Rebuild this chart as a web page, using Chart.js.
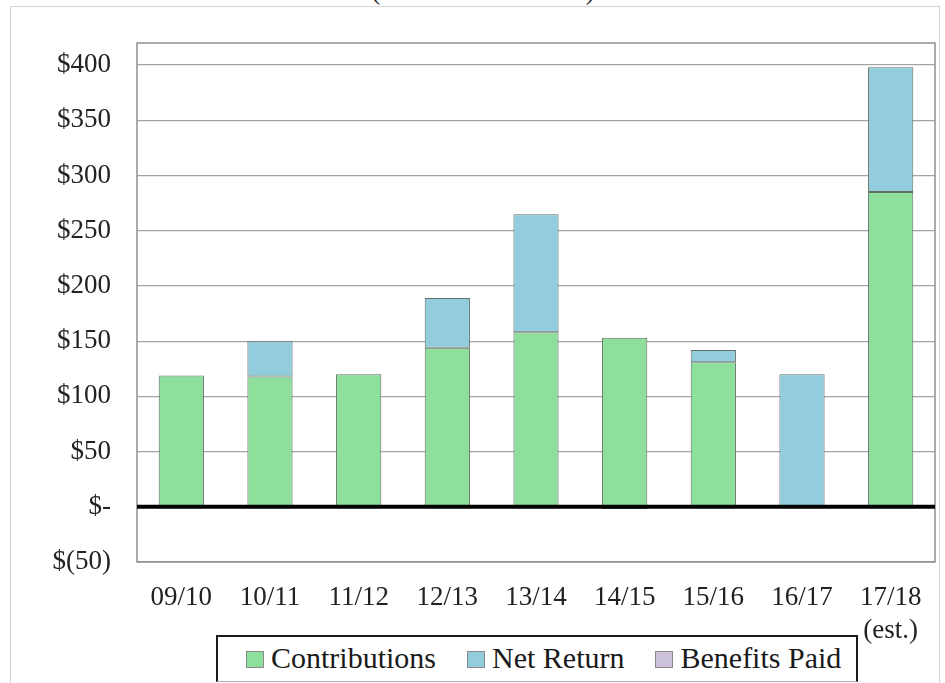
<!DOCTYPE html>
<html>
<head>
<meta charset="utf-8">
<title>Contributions and Net Return</title>
<script src="https://cdn.jsdelivr.net/npm/chart.js@4.4.1/dist/chart.umd.min.js"></script>
<style>
    html, body { margin: 0; padding: 0; background: #fff; }
    #wrap { position: relative; width: 945px; height: 683px; overflow: hidden; }
    #frame { position: absolute; left: 10px; top: 6px; right: 5px; bottom: -10px; border: 1px solid #d4d4d4; }
    #subtitle {
        position: absolute; left: 0; width: 966px; top: -23px; text-align: center;
        font: 27px "Liberation Serif", "Times New Roman", serif; line-height: 27px; color: #222;
    }
    #chart { position: absolute; left: 0; top: 0; }
    #legend {
        position: absolute; left: 216px; top: 635px; width: 642px; height: 47px;
        border: 2px solid #1a1a1a; border-bottom: 1px solid #b0b0b0; background: #fff; box-sizing: border-box;
        display: flex; align-items: flex-start; padding: 4px 0 0 28px;
        font: 30px "Liberation Serif", "Times New Roman", serif; line-height: 34px; color: #1a1a1a; white-space: nowrap;
    }
    .item { display: flex; align-items: center; flex-shrink: 0; margin-right: 31px; height: 34px; }
    .swatch { width: 16px; height: 15px; border: 1px solid #8a8a8a; margin: 3px 7px 0 0; }
</style>
</head>
<body>
<div id="wrap">
    <div id="frame"></div>
    <div id="subtitle">(Dollars in Millions)</div>
    <canvas id="chart" width="945" height="683"></canvas>
    <div id="legend"></div>
</div>
<script>
// --- Chart data ($ millions) ---
const years = ['09/10', '10/11', '11/12', '12/13', '13/14', '14/15', '15/16', '16/17', ['17/18', '(est.)']];
const contributions = [119, 118, 120, 144, 158, 153, 131, 0, 285];
const netReturn = [0, 32, 0, 45, 107, 0, 11, 120, 113];
const benefitsPaid = [0, 0, 0, 0, 0, -2, 0, 0, 0];
const yTicks = [-50, 0, 50, 100, 150, 200, 250, 300, 350, 400];

const seriesNames = ['Contributions', 'Net Return', 'Benefits Paid'];
const seriesColors = ['#8ddf9b', '#93cddd', '#cdc2dc'];

// frame round the plot and the heavy zero line
const plotFrame = {
    id: 'plotFrame',
    afterDatasetsDraw(chart) {
        const { ctx, chartArea: a, scales } = chart;
        ctx.save();
        ctx.strokeStyle = '#8e8e8e';
        ctx.lineWidth = 1.5;
        ctx.strokeRect(a.left, a.top, a.right - a.left, a.bottom - a.top);
        const y0 = scales.y.getPixelForValue(0);
        ctx.strokeStyle = '#000';
        ctx.lineWidth = 4;
        ctx.beginPath();
        ctx.moveTo(a.left, y0);
        ctx.lineTo(a.right, y0);
        ctx.stroke();
        ctx.restore();
    }
};

const datasets = [contributions, netReturn, benefitsPaid].map((vals, i) => ({
    label: seriesNames[i],
    data: vals,
    backgroundColor: seriesColors[i],
    borderColor: '#5f6f63',
    borderWidth: 1,
    borderSkipped: false,
    categoryPercentage: 1,
    barPercentage: 0.51
}));

new Chart(document.getElementById('chart'), {
    type: 'bar',
    data: { labels: years, datasets: datasets },
    options: {
        responsive: false,
        animation: false,
        layout: { padding: { top: 43, right: 10, left: 0, bottom: 0 } },
        plugins: { legend: { display: false }, tooltip: { enabled: false } },
        scales: {
            x: {
                stacked: true,
                grid: { display: false, drawTicks: false },
                border: { display: false },
                ticks: {
                    color: '#222',
                    padding: 20,
                    maxRotation: 0,
                    font: { family: '"Liberation Serif", "Times New Roman", serif', size: 27, lineHeight: 1.2 }
                },
                afterFit(scale) { scale.height = 121; }
            },
            y: {
                stacked: true,
                min: -50,
                max: 420,
                afterBuildTicks(scale) { scale.ticks = yTicks.map(v => ({ value: v })); },
                grid: { color: '#a4a4a4', lineWidth: 1.2, drawTicks: false },
                border: { display: false },
                ticks: {
                    color: '#222',
                    padding: 26,
                    font: { family: '"Liberation Serif", "Times New Roman", serif', size: 27 },
                    callback: v => v === 0 ? '$-' : v < 0 ? '$(' + (-v) + ')' : '$' + v
                },
                afterFit(scale) { scale.width = 137; }
            }
        }
    },
    plugins: [plotFrame]
});

// --- Boxed legend under the axis ---
const legend = document.getElementById('legend');
seriesNames.forEach((name, i) => {
    legend.innerHTML += `<div class="item"><span class="swatch" style="background:${seriesColors[i]}"></span>${name}</div>`;
});
</script>
</body>
</html>
